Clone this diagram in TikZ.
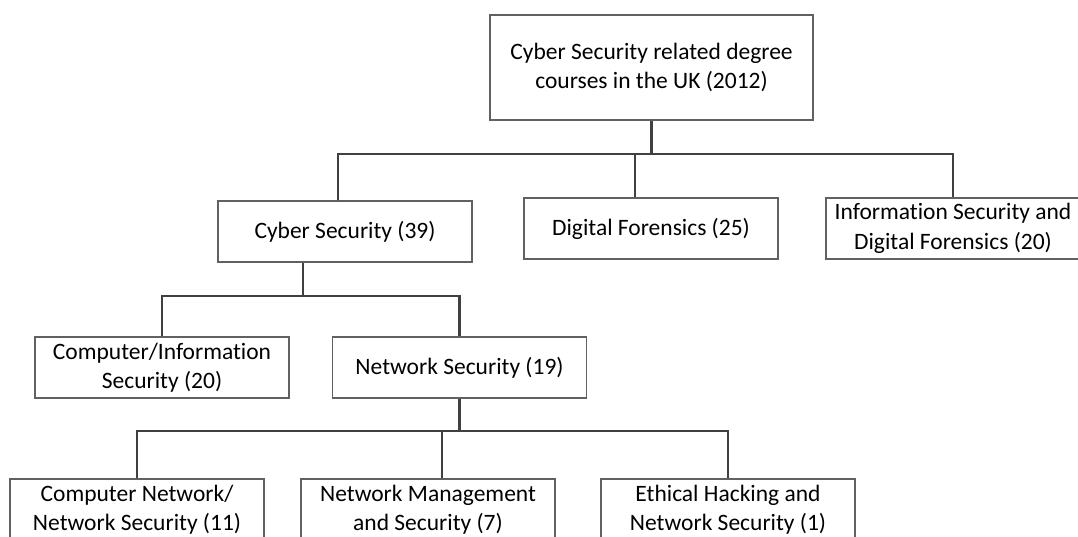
\documentclass[tikz,border=0pt]{standalone}
\usepackage{fontspec}
\setmainfont{Carlito}[Ligatures=NoCommon]

\begin{document}
\begin{tikzpicture}[
  x=1pt, y=-1pt,
  block/.style={rectangle, draw=black!62, line width=1.2pt, fill=white, minimum width=254pt, minimum height=61pt, inner sep=2pt, align=center, font=\fontsize{23.5}{29.5}\selectfont},
  link/.style={draw=black!75, line width=2.2pt},
  font=\fontsize{23.5}{29.5}\selectfont
]
\useasboundingbox (0,0) rectangle (1078,537);

\node[block, minimum width=323pt, minimum height=105pt] (root) at (651.5,67.5) {Cyber Security related degree\\courses in the UK (2012)};

\node[block] (cyber) at (345,231.5) {Cyber Security (39)};
\node[block] (digital) at (651,228.5) {Digital Forensics (25)};
\node[block] (infosec) at (953,228.5) {Information Security and\\Digital Forensics (20)};

\node[block] (compinfo) at (162,367.5) {Computer/Information\\Security (20)};
\node[block] (netsec) at (459.5,367.5) {Network Security (19)};

\node[block] (compnet) at (137,509.5) {Computer Network/\\Network Security (11)};
\node[block] (netmgmt) at (428,509.5) {Network Management\\and Security (7)};
\node[block] (ethical) at (728,509.5) {Ethical Hacking and\\Network Security (1)};

% Buses
\coordinate (bus1) at (0,154);
\coordinate (bus2) at (0,296);
\coordinate (bus3) at (0,431);

% Connectors
\draw[link] (root.south) -- (root.south |- bus1);
\draw[link] ([xshift=-7pt]cyber.north) |- (bus1 -| infosec.north) -- (infosec.north);
\draw[link] ([xshift=-16pt]digital.north) -- ([xshift=-16pt]digital.north |- bus1);

\draw[link] ([xshift=-42pt]cyber.south) -- ([xshift=-42pt]cyber.south |- bus2);
\draw[link] (compinfo.north) |- (bus2 -| netsec.north) -- (netsec.north);

\draw[link] (netsec.south) -- (netsec.south |- bus3);
\draw[link] (compnet.north) |- (bus3 -| ethical.north) -- (ethical.north);
\draw[link] ([xshift=14pt]netmgmt.north) -- ([xshift=14pt]netmgmt.north |- bus3);

\end{tikzpicture}
\end{document}
